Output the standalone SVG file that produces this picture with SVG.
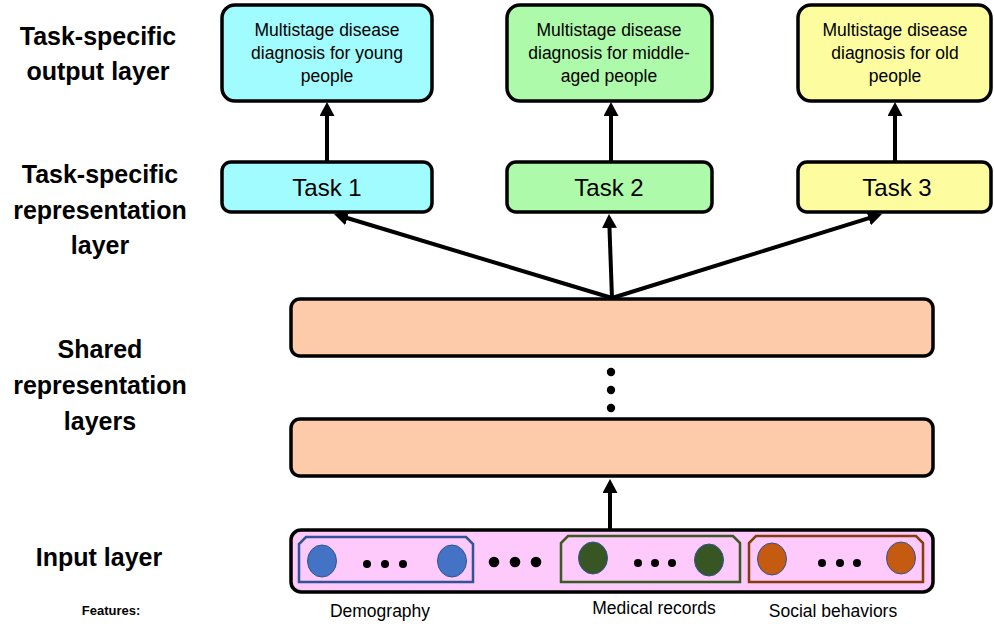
<svg xmlns="http://www.w3.org/2000/svg" width="994" height="624" viewBox="0 0 994 624">
<style>
  text { font-family: "Liberation Sans", Arial, sans-serif; fill: #000; }
  .side { font-size: 25px; font-weight: bold; text-anchor: middle; }
  .out { font-size: 17.5px; text-anchor: middle; }
  .task { font-size: 24px; text-anchor: middle; }
  .feat { font-size: 17.5px; text-anchor: middle; }
  .box { stroke: #000; stroke-width: 3.5; }
  .conn { stroke: #000; stroke-width: 4; fill: none; marker-end: url(#arrow); }
  .dot { fill: #000; }
</style>
<defs>
  <marker id="arrow" markerUnits="userSpaceOnUse" markerWidth="14" markerHeight="15" viewBox="0 0 14 15" refX="2" refY="7.5" orient="auto">
    <path d="M0,0 L14,7.5 L0,15 Z" fill="#000"/>
  </marker>
</defs>

<rect width="994" height="624" fill="#fff"/>

<g id="side-labels">
  <text class="side" x="98" y="45">Task-specific</text>
  <text class="side" x="98" y="80">output layer</text>
  <text class="side" x="100" y="183">Task-specific</text>
  <text class="side" x="100" y="219">representation</text>
  <text class="side" x="100" y="254">layer</text>
  <text class="side" x="100" y="358">Shared</text>
  <text class="side" x="100" y="394">representation</text>
  <text class="side" x="100" y="430">layers</text>
  <text class="side" x="99" y="566">Input layer</text>
  <text x="111" y="615" style="font-size:13px;font-weight:bold;text-anchor:middle">Features:</text>
</g>

<g id="connectors">
  <line class="conn" x1="327" y1="161" x2="327" y2="114"/>
  <line class="conn" x1="611" y1="161" x2="611" y2="114"/>
  <line class="conn" x1="895" y1="161" x2="895" y2="114"/>
  <line class="conn" x1="612" y1="298" x2="345.5" y2="217.5"/>
  <line class="conn" x1="612" y1="298" x2="609.4" y2="226"/>
  <line class="conn" x1="612" y1="298" x2="870.5" y2="217.6"/>
  <line class="conn" x1="610" y1="530" x2="610" y2="491"/>
</g>

<g id="out1">
  <rect class="box" x="222" y="5" width="210" height="96" rx="13" fill="#a0fcfe"/>
  <text class="out" x="327" y="36">Multistage disease</text>
  <text class="out" x="327" y="59">diagnosis for young</text>
  <text class="out" x="327" y="82">people</text>
</g>
<g id="out2">
  <rect class="box" x="507" y="5" width="205" height="96" rx="13" fill="#adfaaa"/>
  <text class="out" x="609" y="36">Multistage disease</text>
  <text class="out" x="609" y="59">diagnosis for middle-</text>
  <text class="out" x="609" y="82">aged people</text>
</g>
<g id="out3">
  <rect class="box" x="798" y="5" width="193" height="96" rx="13" fill="#fdfda0"/>
  <text class="out" x="895" y="36">Multistage disease</text>
  <text class="out" x="895" y="59">diagnosis for old</text>
  <text class="out" x="895" y="82">people</text>
</g>

<g id="task1">
  <rect class="box" x="222" y="162" width="210" height="50" rx="9" fill="#a0fcfe"/>
  <text class="task" x="327" y="196">Task 1</text>
</g>
<g id="task2">
  <rect class="box" x="507" y="162" width="205" height="50" rx="9" fill="#adfaaa"/>
  <text class="task" x="609" y="196">Task 2</text>
</g>
<g id="task3">
  <rect class="box" x="798" y="162" width="193" height="50" rx="9" fill="#fdfda0"/>
  <text class="task" x="897" y="196">Task 3</text>
</g>

<g id="shared1">
  <rect class="box" x="291" y="299" width="642" height="57" rx="9" fill="#fdcbaa"/>
</g>
<g id="shared-dots">
  <circle class="dot" cx="611" cy="372" r="4.2"/>
  <circle class="dot" cx="611" cy="390" r="4.2"/>
  <circle class="dot" cx="611" cy="408" r="4.2"/>
</g>
<g id="shared2">
  <rect class="box" x="291" y="419" width="642" height="57" rx="9" fill="#fdcbaa"/>
</g>

<g id="input">
  <rect class="box" x="291" y="530" width="642" height="62" rx="10" fill="#fec9fb"/>
  <g id="demography">
    <path d="M299,582 L299,544 L306,537 L466,537 L473,544 L473,582 Z" fill="none" stroke="#2f5597" stroke-width="2.5"/>
    <ellipse cx="322" cy="561" rx="14.5" ry="16" fill="#4472c4" stroke="#2f5597" stroke-width="1"/>
    <ellipse cx="452" cy="561" rx="14.5" ry="16" fill="#4472c4" stroke="#2f5597" stroke-width="1"/>
    <circle class="dot" cx="367" cy="564" r="4"/>
    <circle class="dot" cx="385" cy="564" r="4"/>
    <circle class="dot" cx="403" cy="564" r="4"/>
  </g>
  <g id="mid-dots">
    <circle class="dot" cx="494" cy="562" r="5.3"/>
    <circle class="dot" cx="515" cy="562" r="5.3"/>
    <circle class="dot" cx="536" cy="562" r="5.3"/>
  </g>
  <g id="medical">
    <path d="M561,582 L561,543 L568,536 L733,536 L740,543 L740,582 Z" fill="none" stroke="#3a5a22" stroke-width="2.5"/>
    <ellipse cx="593" cy="558" rx="14.5" ry="16" fill="#375623" stroke="#2f5597" stroke-width="1"/>
    <ellipse cx="709" cy="560" rx="14.5" ry="16" fill="#375623" stroke="#2f5597" stroke-width="1"/>
    <circle class="dot" cx="638" cy="563" r="4"/>
    <circle class="dot" cx="655" cy="563" r="4"/>
    <circle class="dot" cx="672" cy="563" r="4"/>
  </g>
  <g id="social">
    <path d="M749,582 L749,543 L756,536 L916,536 L923,543 L923,582 Z" fill="none" stroke="#843c0c" stroke-width="2.5"/>
    <ellipse cx="772" cy="559" rx="14.5" ry="16" fill="#c55a11" stroke="#2f5597" stroke-width="1"/>
    <ellipse cx="901" cy="558" rx="14.5" ry="16" fill="#c55a11" stroke="#2f5597" stroke-width="1"/>
    <circle class="dot" cx="822" cy="563" r="4"/>
    <circle class="dot" cx="840" cy="563" r="4"/>
    <circle class="dot" cx="857" cy="563" r="4"/>
  </g>
</g>

<g id="feature-labels">
  <text class="feat" x="380" y="617">Demography</text>
  <text class="feat" x="654" y="614">Medical records</text>
  <text class="feat" x="833" y="617">Social behaviors</text>
</g>
</svg>
